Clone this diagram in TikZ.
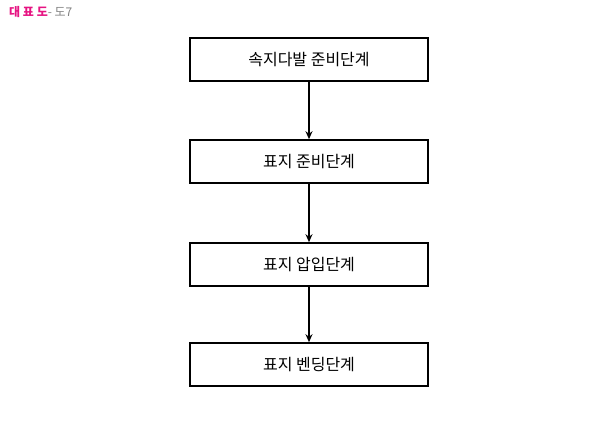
\documentclass[tikz,border=0pt]{standalone}
\usepackage{fontspec}
\newfontfamily\cjk{Noto Sans CJK KR}
\usetikzlibrary{arrows.meta}
\begin{document}
\begin{tikzpicture}[x=1pt,y=-1pt,
  stepbox/.style={draw,line width=1.6pt,minimum width=238pt,minimum height=43pt,font=\cjk\fontsize{16}{19}\selectfont},
  conn/.style={line width=1.4pt,-{Stealth[length=8pt,width=7pt]}}]
\useasboundingbox (0,0) rectangle (600,429);
\node[anchor=west,inner sep=0] (title) at (9,12) {\cjk\fontsize{12}{14}\selectfont\textcolor[RGB]{230,20,130}{\bfseries 대 표 도}\textcolor{gray}{ - 도7}};
\node[stepbox] (s1) at (309,59.5) {속지다발 준비단계};
\node[stepbox] (s2) at (309,161.5) {표지 준비단계};
\node[stepbox] (s3) at (309,264.5) {표지 압입단계};
\node[stepbox] (s4) at (309,364.5) {표지 벤딩단계};
\draw[conn] (s1) -- (s2);
\draw[conn] (s2) -- (s3);
\draw[conn] (s3) -- (s4);
\end{tikzpicture}
\end{document}
